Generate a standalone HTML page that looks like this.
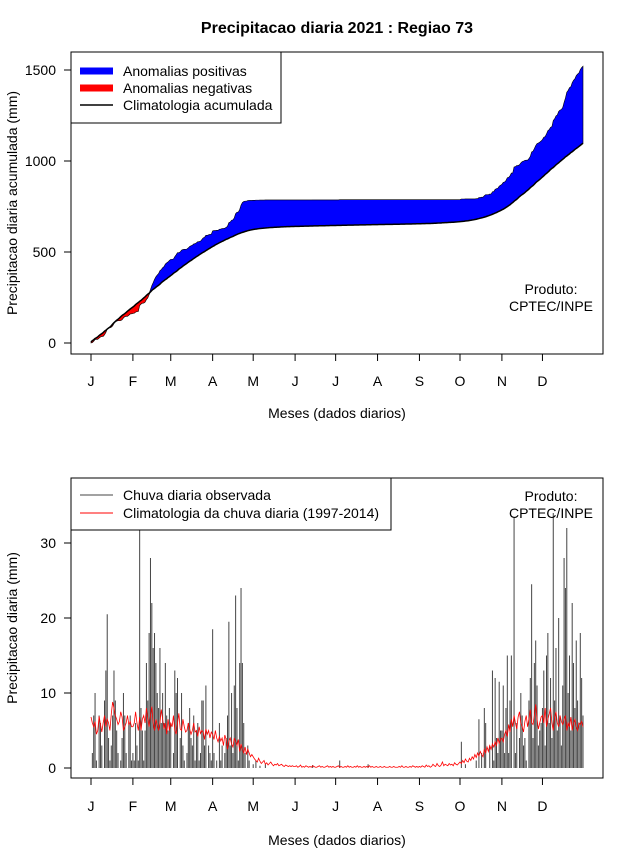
<!DOCTYPE html>
<html><head><meta charset="utf-8"><style>
body{margin:0;background:#fff;}
svg text{font-family:"Liberation Sans",sans-serif;}
</style></head><body>
<svg id="c" width="640" height="850" xmlns="http://www.w3.org/2000/svg">
<rect width="640" height="850" fill="#fff"/>
<text x="337" y="33" font-size="16" font-weight="bold" text-anchor="middle">Precipitacao diaria 2021 : Regiao 73</text>
</svg>
<script>
const months=["J","F","M","A","M","J","J","A","S","O","N","D"];
const monthStart=[0,31,59,90,120,151,181,212,243,273,304,334];
const obsJan=[0,2,7,10,1,0,7,6,3,0,9,13,20.5,4,1,3,7,13,9,5,2,0,1,4,10,7,2,0,6,7,1];
const obsFeb=[2,1,6,3,1,32,8,5,1,5,14,9,18,28,22,16,18,14,10,8,16,6,10,6,14,7,5,8];
const obsMar=[6,0,2,13,10,12,0,4,10,3,1,0,2,6,8,4,3,7,1,5,6,1,2,9,9,3,11,0,3,2,1];
const obsApr=[18.5,2,0,1,0,6,1,3,0,2,4,7,19.5,3,10,2,11,23,8,1,14,24,14,6,2,0,3,1,0,0];
const obsMay=[0.5,0,1,0,0,0.3,0,0,0,0.5,0,0,0,0,0,0,0,0,0,0,0,0,0,0,0,0,0,0,0,0,0];
const obsJun=[0,0,0,0,0,0,0,0,0,0,0,0,0,0.4,0,0,0,0,0,0,0,0,0,0,0,0,0,0,0,0];
const obsJul=[0,0,0,1,0,0,0,0,0,0,0,0,0,0,0,0,0,0,0,0,0,0,0,0,0.5,0,0,0,0,0,0];
const obsAug=[0,0,0,0,0,0,0,0,0,0,0,0,0,0,0,0,0,0,0,0,0,0,0,0,0,0,0,0,0,0,0];
const obsSep=[0,0,0,0,0,0,0,0,0,0,0,0,0,0,0,0,0,0,0,0,0,0,0,0,0,0,0,0,0,0];
const obsOct=[0,3.5,0,0,0.5,0,0,0,0,0,0,0,1,0,6.5,0,2,0,8,6,0,0,3,0,13,1,12,4,2,11.5,5];
const obsNov=[5,11,2,8,15,2,9,15,0,33.5,2,6,0,4,10,7,3,4,1,0,9,12,24.5,4,14,17,11,3,5,6];
const obsDec=[8,13,3,15,18,6,12,4,34,9,16,5,20,7,3,11,28,24,32,10,15,5,22,14,8,17,9,6,18,12,7];
const climJan=[6.8,6,5.5,6.2,4.5,5,6.9,5.8,4.8,6,7,5.5,6.5,6,5,7.2,8.8,8,7,6.5,5.8,6.2,7.5,6.8,5,5.5,6,7,5.8,6.2,5.5];
const climFeb=[5.5,6,7.5,6,5,6.8,5,6.5,7,6,8,6.5,5.5,7,8.2,6,5,6.5,5.8,5,6,7.8,6.5,5.2,6,4.5,6.5,5];
const climMar=[6,5.5,7,5,4.5,6,7.3,5.2,5,6.5,5.5,4.8,5,6,5.2,4.5,5,6,4.8,5,4.2,5.5,4.6,5,4.8,3.8,5.2,4.5,5,4,4.8];
const climApr=[4.5,3.8,5,4,3.5,4.2,3.6,4,3,4.4,3.8,2.5,3.6,4,3.2,2.8,4,3.5,3,3.8,2.2,3.2,2.5,2,2.8,1.8,2.5,2,1.5,1.8];
const climMay=[1.5,1.2,1,0.8,1.3,0.9,0.6,0.8,1,0.5,0.7,0.4,0.6,0.8,0.5,0.3,0.5,0.4,0.6,0.3,0.4,0.5,0.3,0.2,0.4,0.3,0.2,0.3,0.2,0.3,0.2];
const climJun=[0.2,0.3,0.1,0.2,0.4,0.1,0.2,0.1,0.3,0.2,0.1,0.2,0.1,0.3,0.2,0.1,0.1,0.2,0.3,0.1,0.2,0.1,0.1,0.2,0.3,0.1,0.2,0.1,0.2,0.1];
const climJul=[0.1,0.2,0.3,0.1,0.2,0.1,0.1,0.2,0.1,0.3,0.1,0.2,0.1,0.1,0.2,0.1,0.3,0.1,0.2,0.1,0.1,0.2,0.1,0.2,0.1,0.3,0.1,0.2,0.1,0.1,0.2];
const climAug=[0.1,0.1,0.2,0.1,0.1,0.2,0.1,0.1,0.1,0.2,0.1,0.1,0.2,0.1,0.1,0.1,0.2,0.1,0.3,0.1,0.1,0.2,0.1,0.1,0.2,0.1,0.3,0.2,0.1,0.2,0.1];
const climSep=[0.2,0.1,0.3,0.2,0.1,0.4,0.2,0.3,0.1,0.2,0.5,0.3,0.2,0.6,0.3,0.2,0.4,0.8,0.3,0.5,0.4,0.3,0.6,0.4,0.5,0.3,0.7,0.5,0.4,0.6];
const climOct=[0.8,0.6,1,0.7,1.2,0.9,0.8,1.3,1,1.5,1.2,1.8,1.4,2,1.6,2.2,1.8,1.5,2.5,2,2.8,2.2,3,2.5,3.2,2.8,3.5,3,4,3.3,3.8];
const climNov=[4,3.5,4.5,5,4.2,5.8,4.8,6.5,5.5,7,6,5.2,6.8,7.5,6,5.5,4.8,6.2,7,5.5,6.5,7.8,6,5.8,7,8.5,6.5,5.2,6,6.8];
const climDec=[7,6,8,5.5,6.5,7.2,8,6,5,6.8,7.5,6,5.5,7,6.2,5.8,6.5,7,5,6,5.5,6.8,5,6,6.5,5.5,5,6,5.8,6.2,5.5];
const topTicks=[0,500,1000,1500];
const botTicks=[0,10,20,30];

const obs=[].concat(obsJan,obsFeb,obsMar,obsApr,obsMay,obsJun,obsJul,obsAug,obsSep,obsOct,obsNov,obsDec);
const clim=[].concat(climJan,climFeb,climMar,climApr,climMay,climJun,climJul,climAug,climSep,climOct,climNov,climDec);
const NS="http://www.w3.org/2000/svg";
const svg=document.getElementById('c');
function mk(tag,attrs,parent){const e=document.createElementNS(NS,tag);for(const k in attrs)e.setAttribute(k,attrs[k]);(parent||svg).appendChild(e);return e;}
function txt(x,y,s,size,anchor,rot){const t=mk('text',{x:x,y:y,'font-size':size,'text-anchor':anchor||'middle'});if(rot)t.setAttribute('transform','rotate(-90 '+x+' '+y+')');t.textContent=s;return t;}
const xs=d=>91+d*(492/364);
const yTop=v=>343-v*(91/500);
const yBot=v=>768-v*7.5;

const cObs=[],cClim=[];let a=0,b=0;
for(let i=0;i<obs.length;i++){a+=obs[i];b+=clim[i];cObs.push(a);cClim.push(b);}

let g=mk('g',{});


let up='',dn='';
for(let i=0;i<cObs.length;i++){up+=xs(i)+','+yTop(Math.max(cObs[i],cClim[i]))+' ';dn+=xs(i)+','+yTop(Math.min(cObs[i],cClim[i]))+' ';}
let back='';for(let i=cObs.length-1;i>=0;i--)back+=xs(i)+','+yTop(cClim[i])+' ';
let p=mk('polygon',{points:up+back,fill:'#0000ff',stroke:'#000','stroke-width':0.6},g);


p=mk('polygon',{points:dn+back,fill:'#ff0000',stroke:'#000','stroke-width':0.6},g);


let cl='';for(let i=0;i<cClim.length;i++)cl+=xs(i)+','+yTop(cClim[i])+' ';
p=mk('polyline',{points:cl,fill:'none',stroke:'#000','stroke-width':1.5},g);


mk('rect',{x:71,y:52,width:532,height:302,fill:'none',stroke:'#000'},g);
mk('line',{x1:71,x2:71,y1:yTop(0),y2:yTop(1500),stroke:'#000'},g);
topTicks.forEach(v=>{mk('line',{x1:64,x2:71,y1:yTop(v),y2:yTop(v),stroke:'#000'},g);const t=txt(56,yTop(v)+5,String(v),14,'end');});
mk('line',{x1:xs(0),x2:xs(monthStart[11]),y1:354,y2:354,stroke:'#000'},g);
months.forEach((m,i)=>{mk('line',{x1:xs(monthStart[i]),x2:xs(monthStart[i]),y1:354,y2:361,stroke:'#000'},g);const t=txt(xs(monthStart[i]),386,m,14);});
let t=txt(337,418,'Meses (dados diarios)',14);
t=txt(17,203,'Precipitacao diaria acumulada (mm)',14,'middle',true);
t=txt(551,294,'Produto:',14);
t=txt(551,311,'CPTEC/INPE',14);
let lg=mk('g',{});


mk('rect',{x:71,y:52,width:210,height:71,fill:'#fff',stroke:'#000'},lg);
mk('line',{x1:80,x2:113,y1:71,y2:71,stroke:'#0000ff','stroke-width':7},lg);
mk('line',{x1:80,x2:113,y1:88,y2:88,stroke:'#ff0000','stroke-width':7},lg);
mk('line',{x1:80,x2:113,y1:105,y2:105,stroke:'#000','stroke-width':1.5},lg);
[['Anomalias positivas',76],['Anomalias negativas',93],['Climatologia acumulada',110]].forEach(r=>{const e=txt(123,r[1],r[0],14,'start');});

g=mk('g',{});


obs.forEach((v,i)=>{if(v<=0)return;const l=mk('line',{x1:xs(i),x2:xs(i),y1:yBot(0),y2:yBot(v),stroke:'#444','stroke-width':1},g);

});
let rl='';clim.forEach((v,i)=>{rl+=xs(i)+','+yBot(v)+' ';});
p=mk('polyline',{points:rl,fill:'none',stroke:'#ff0000','stroke-width':0.8},g);


mk('rect',{x:71,y:478,width:532,height:300,fill:'none',stroke:'#000'},g);
mk('line',{x1:71,x2:71,y1:yBot(0),y2:yBot(30),stroke:'#000'},g);
botTicks.forEach(v=>{mk('line',{x1:64,x2:71,y1:yBot(v),y2:yBot(v),stroke:'#000'},g);const e=txt(56,yBot(v)+5,String(v),14,'end');});
mk('line',{x1:xs(0),x2:xs(monthStart[11]),y1:778,y2:778,stroke:'#000'},g);
months.forEach((m,i)=>{mk('line',{x1:xs(monthStart[i]),x2:xs(monthStart[i]),y1:778,y2:785,stroke:'#000'},g);const e=txt(xs(monthStart[i]),811,m,14);});
t=txt(337,845,'Meses (dados diarios)',14);
t=txt(17,628,'Precipitacao diaria (mm)',14,'middle',true);
t=txt(551,501,'Produto:',14);
t=txt(551,518,'CPTEC/INPE',14);
lg=mk('g',{});


mk('rect',{x:71,y:478,width:320,height:52,fill:'#fff',stroke:'#000'},lg);
mk('line',{x1:80,x2:113,y1:495,y2:495,stroke:'#444','stroke-width':1},lg);
mk('line',{x1:80,x2:113,y1:513,y2:513,stroke:'#ff0000','stroke-width':1},lg);
[['Chuva diaria observada',500],['Climatologia da chuva diaria (1997-2014)',518]].forEach(r=>{const e=txt(123,r[1],r[0],14,'start');});
</script>
</body></html>
